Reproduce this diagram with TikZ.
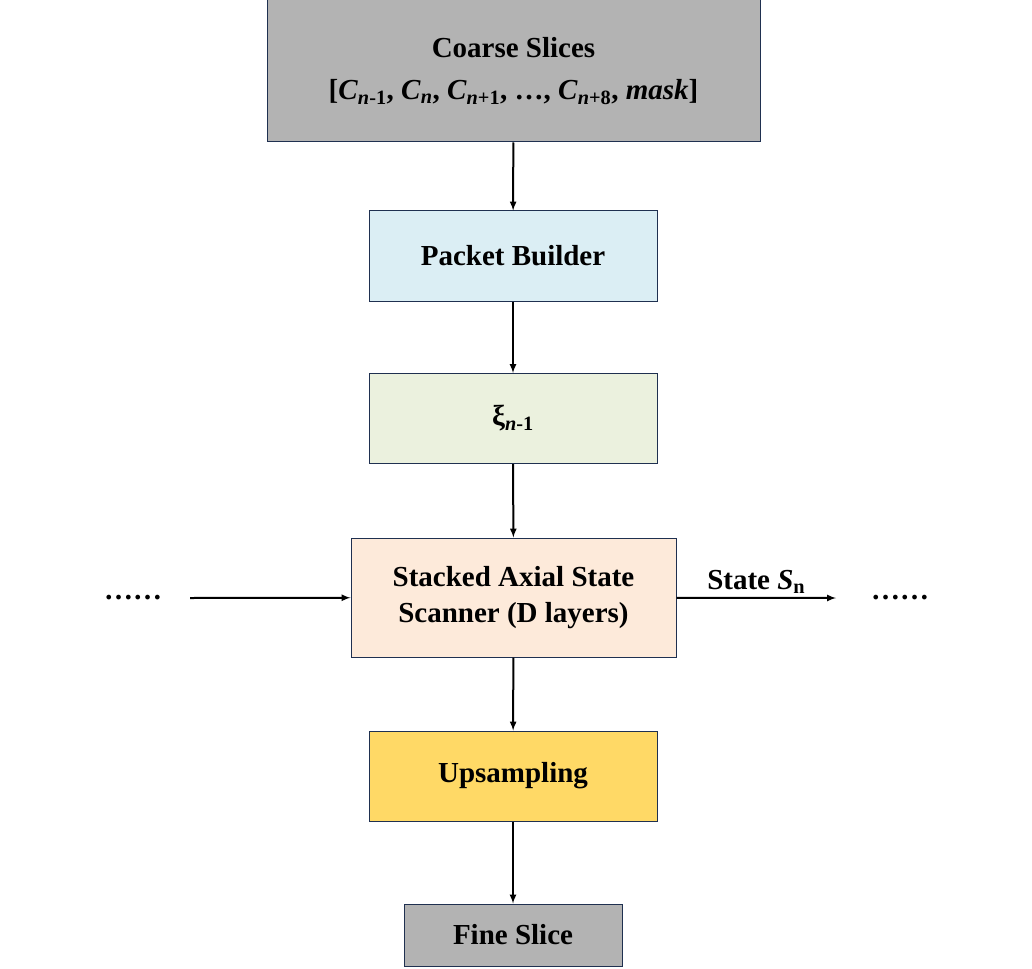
\documentclass[tikz,border=0pt]{standalone}
\usepackage{fontspec}
\setmainfont{Liberation Serif}
\usetikzlibrary{positioning}

\definecolor{boxline}{HTML}{1F3050}
\definecolor{coarsegray}{HTML}{B3B3B3}
\definecolor{packetblue}{HTML}{DBEEF4}
\definecolor{xigreen}{HTML}{EBF1DE}
\definecolor{scanpeach}{HTML}{FDEADA}
\definecolor{upyellow}{HTML}{FFD966}
\newcommand{\ci}[1]{\textit{C}\textsubscript{#1}}

\begin{document}
\begin{tikzpicture}[x=1pt,y=-1pt,>=latex,semithick,
        blk/.style={draw=boxline,line width=1pt,minimum width=288pt,minimum height=90pt,
                    align=center,font=\fontsize{29}{36}\selectfont\bfseries},
        flow/.style={->,line width=2pt}]
    \useasboundingbox (0,0) rectangle (1032,968);

    \node[blk,fill=coarsegray,minimum width=493pt,minimum height=142pt] (coarse) at (513.5,71)
        {Coarse Slices\\[6pt]
         [\ci{\textit{n}-1}, \ci{\textit{n}}, \ci{\textit{n}+1}, \ldots, \ci{\textit{n}+8}, \textit{mask}]};
    \node[blk,fill=packetblue] (packet) at (513,256) {Packet Builder};
    \node[blk,fill=xigreen] (xi) at (513,418.5) {ξ\textsubscript{\textit{n}-1}};
    \node[blk,fill=scanpeach,minimum width=325pt,minimum height=119pt] (scanner) at (513.5,597.5)
        {Stacked Axial State\\Scanner (D layers)};
    \node[blk,fill=upyellow] (upsample) at (513,776) {Upsampling};
    \node[blk,fill=coarsegray,minimum width=218pt,minimum height=62pt] (fine) at (513,935) {Fine Slice};

    \node[font=\fontsize{29}{36}\selectfont\bfseries] (dotsl) at (133,598) {\ldots\ldots};
    \node[font=\fontsize{29}{36}\selectfont\bfseries] (dotsr) at (900,598) {\ldots\ldots};
    \coordinate (inl) at (190,598);
    \coordinate (outr) at (836,598);

    \draw[flow] (coarse) -- (packet);
    \draw[flow] (packet) -- (xi);
    \draw[flow] (xi) -- (scanner);
    \draw[flow] (scanner) -- (upsample);
    \draw[flow] (upsample) -- (fine);
    \draw[flow] (inl) -- (scanner);
    \draw[flow] (scanner) -- node[above,font=\fontsize{29}{36}\selectfont\bfseries] {State \textit{S}\textsubscript{n}} (outr);
\end{tikzpicture}
\end{document}
